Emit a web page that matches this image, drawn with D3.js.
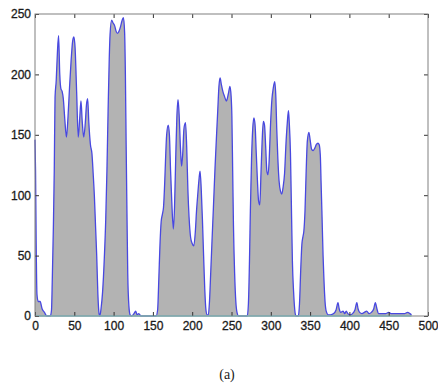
<!DOCTYPE html>
<html>
<head>
<meta charset="utf-8">
<script src="https://cdn.jsdelivr.net/npm/d3@7"></script>
<style>
    body { margin: 0; background: #fff; }
    .tick text { font-family: Arial, "Liberation Sans", sans-serif; }
</style>
</head>
<body>
<div id="chart"></div>
<script>
// histogram, one line per peak group
const intensity = [
    0, 0.7, 1.5, 2.5, 4, 6.5, 9, 12, 15,
    19.5, 21, 22, 23.3, 24.5, 25.5, 27, 28.5, 30, 31.5, 33, 34.5, 36, 38, 40, 42, 44, 46, 48, 49.5, 51, 53, 55, 57, 58.5, 60, 62, 64, 65.5, 67, 68.5, 70.5, 72.5, 74, 75.5, 77, 78.5, 80, 81.5,
    82.5, 84, 86, 88, 90, 91.5, 93, 94.5, 95.5, 97.5, 99, 101.5, 103, 105, 107, 109, 110.5, 112.5, 114, 115, 116, 117, 118, 119.5, 121, 123, 126, 128, 130, 132, 135,
    154, 156, 157.5, 159, 160.5, 162, 163.5, 165, 166, 167.5, 169.5, 171, 172.5, 174, 176, 177.5, 179, 180.5, 182, 183.5, 185, 186.5, 188, 189.5, 191.5, 193, 194.5, 196, 198, 200, 202, 204, 205.5, 207, 208.5, 210, 211.5, 213, 214.5, 216, 217.5, 219,
    220.5, 222, 223.5, 225, 227, 229, 231, 232.5, 234, 235.5, 237, 239, 241, 243.5, 246, 248, 249.5, 250.5, 251.5, 252.5, 254, 255.5, 257, 259,
    270, 271.5, 273, 274, 275.5, 277, 278.5, 280, 281.5, 283, 284.5, 286, 287.5, 289, 290.5, 292, 293.5, 295, 296.5, 298, 299.5, 301.5, 303, 305, 306.5, 307.5, 309, 310.5, 312.5, 314, 315.5, 317.5, 319.5, 321, 322.5, 323.5, 325, 326.5, 327.5, 329, 330.5, 332,
    335, 336.5, 338, 339.5, 341, 342, 343.5, 345, 346.5, 348.5, 350, 352, 354, 356, 358, 360, 361.5, 363, 364, 365, 366.5, 367.5, 369, 370.5, 373,
    376, 380, 383, 385.5, 387, 389, 392, 394, 396, 398, 401, 404, 407, 409.5, 411, 413, 416, 419, 422, 425, 428, 431, 433, 435, 437, 441, 446, 450, 453, 458, 464, 470, 474, 477, 479
];
const pixelCount = [
    146, 120, 60, 18, 12, 12, 6, 3, 0,
    0, 5, 30, 71, 120, 181, 195, 218, 232, 200, 188, 186, 180, 162, 148, 165, 190, 212, 228, 231, 222, 185, 148, 165, 178, 162, 148, 160, 175, 180, 160, 142, 134, 118, 100, 75, 50, 18, 2,
    0, 6, 20, 45, 80, 120, 170, 214, 233, 245, 243, 240, 236, 234, 236, 240, 244, 247, 235, 200, 140, 85, 35, 8, 1, 0, 2, 4, 1, 2, 0,
    0, 5, 30, 59, 78, 84, 90, 110, 128, 150, 158, 150, 120, 95, 72, 90, 130, 165, 179, 165, 140, 124, 135, 155, 160, 140, 105, 82, 65, 60, 58, 70, 87, 100, 112, 120, 105, 80, 50, 22, 5, 1,
    1, 12, 35, 59, 90, 122, 150, 170, 190, 197, 192, 186, 182, 178, 184, 190, 182, 165, 120, 75, 35, 12, 3, 0,
    0, 10, 50, 87, 130, 155, 164, 158, 135, 112, 95, 92, 118, 145, 161, 158, 140, 120, 117, 130, 156, 180, 188, 194, 180, 156, 130, 112, 103, 101, 106, 118, 145, 160, 170, 160, 135, 80, 45, 20, 5, 0,
    0, 10, 37, 59, 66, 70, 87, 120, 145, 152, 146, 138, 137, 139, 142, 143, 142, 133, 110, 87, 50, 32, 12, 4, 1,
    1, 2, 5, 11, 6, 3, 4, 2, 4, 2, 1, 2, 5, 11, 6, 3, 2, 3, 4, 2, 3, 6, 11, 6, 2, 2, 2, 3, 2, 2, 2, 2, 3, 2, 1
];
const xTicks = [0, 50, 100, 150, 200, 250, 300, 350, 400, 450, 500];
const yTicks = [0, 50, 100, 150, 200, 250];
const caption = "(a)";

const data = intensity.map((v, i) => ({ x: v, y: pixelCount[i] }));

const totalW = 438, totalH = 385;
const margin = {top: 14, right: 10, bottom: 69, left: 35};
const width = totalW - margin.left - margin.right;
const height = totalH - margin.top - margin.bottom;

const xScale = d3.scaleLinear().domain([0, 500]).range([0, width]);
const yScale = d3.scaleLinear().domain([0, 250]).range([height, 0]);

const svg = d3.select("#chart")
    .append("svg")
    .attr("width", totalW)
    .attr("height", totalH);

const chart = svg.append("g")
    .attr("transform", `translate(${margin.left},${margin.top})`);

const area = d3.area()
    .x(d => xScale(d.x))
    .y0(yScale(0))
    .y1(d => yScale(d.y))
    .curve(d3.curveMonotoneX);

const line = d3.line()
    .x(d => xScale(d.x))
    .y(d => yScale(d.y))
    .curve(d3.curveMonotoneX);

chart.append("path")
    .datum(data)
    .attr("fill", "#b3b3b3")
    .attr("d", area);

chart.append("path")
    .datum(data)
    .attr("fill", "none")
    .attr("stroke", "#4848e0")
    .attr("stroke-width", 1.3)
    .attr("stroke-linejoin", "round")
    .attr("d", line);

// baseline of the area
chart.append("line")
    .attr("x1", xScale(0))
    .attr("x2", xScale(d3.max(intensity)))
    .attr("y1", yScale(0))
    .attr("y2", yScale(0))
    .attr("stroke", "#7fdde6")
    .attr("stroke-width", 1.5);

// axes, ticks pointing inward like matlab
const styleAxis = g => {
    g.select(".domain").remove();
    g.selectAll(".tick line").attr("stroke", "#333");
    g.selectAll(".tick text")
        .style("font-size", "12px")
        .attr("fill", "#1a1a1a")
        .attr("stroke", "#1a1a1a")
        .attr("stroke-width", 0.3);
};

chart.append("g")
    .attr("transform", `translate(0,${height})`)
    .call(d3.axisBottom(xScale).tickValues(xTicks).tickSize(-4).tickPadding(5))
    .call(styleAxis);

chart.append("g")
    .call(d3.axisLeft(yScale).tickValues(yTicks).tickSize(-4).tickPadding(4))
    .call(styleAxis);

chart.append("g")
    .call(d3.axisTop(xScale).tickValues(xTicks).tickSize(-4).tickFormat(""))
    .call(styleAxis);

chart.append("g")
    .attr("transform", `translate(${width},0)`)
    .call(d3.axisRight(yScale).tickValues(yTicks).tickSize(-4).tickFormat(""))
    .call(styleAxis);

chart.append("rect")
    .attr("width", width)
    .attr("height", height)
    .attr("fill", "none")
    .attr("stroke", "#808080")
    .attr("stroke-width", 1);

svg.append("text")
    .attr("x", 227)
    .attr("y", 379)
    .attr("text-anchor", "middle")
    .style("font-family", "'Liberation Serif', 'Times New Roman', serif")
    .style("font-size", "14px")
    .attr("fill", "#1a1a1a")
    .text(caption);
</script>
</body>
</html>
